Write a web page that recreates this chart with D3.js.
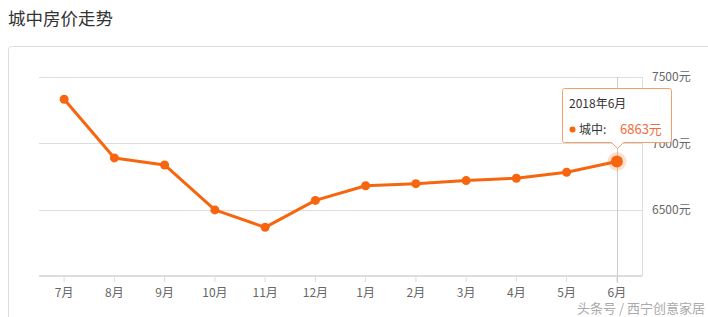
<!DOCTYPE html>
<html>
<head>
<meta charset="utf-8">
<script src="https://cdn.jsdelivr.net/npm/d3@7"></script>
<style>
  html, body { margin: 0; padding: 0; background: #fff; }
  body { width: 708px; height: 317px; overflow: hidden; font-family: "Noto Sans CJK SC", "Noto Sans", sans-serif; }
  svg { display: block; }
</style>
</head>
<body>
<svg id="chart"></svg>
<script>
// dati
const months = ["7月", "8月", "9月", "10月", "11月", "12月", "1月", "2月", "3月", "4月", "5月", "6月"];
const prices = [7332, 6890, 6837, 6498, 6367, 6570, 6680, 6696, 6719, 6737, 6782, 6863];
const yTicks = [6500, 7000, 7500];
const seriesName = "城中";
const tipTitle = "2018年6月";

const width = 708, height = 317;
const svg = d3.select("#chart").attr("width", width).attr("height", height);

// titolo + cornice
svg.append("text")
  .attr("x", 8).attr("y", 25)
  .attr("font-size", 17.5).attr("fill", "#333")
  .text("城中房价走势");

svg.append("rect")
  .attr("x", 8.5).attr("y", 46.5)
  .attr("width", 720).attr("height", 300)
  .attr("rx", 3)
  .attr("fill", "none").attr("stroke", "#ddd");

// area del grafico
const plot = { left: 39, right: 642, top: 77, bottom: 276 };

const x = d3.scaleBand().domain(months).range([plot.left, plot.right]);
const y = d3.scaleLinear().domain([6000, 7500]).range([plot.bottom, plot.top]);
const cx = (m) => x(m) + x.bandwidth() / 2;

// griglia
svg.append("g")
  .selectAll("line")
  .data(yTicks)
  .join("line")
  .attr("x1", plot.left).attr("x2", plot.right)
  .attr("y1", (d) => Math.round(y(d)) + 0.5)
  .attr("y2", (d) => Math.round(y(d)) + 0.5)
  .attr("stroke", "#ddd");

// bordo destro
svg.append("line")
  .attr("x1", plot.right + 0.5).attr("x2", plot.right + 0.5)
  .attr("y1", plot.top).attr("y2", plot.bottom)
  .attr("stroke", "#ddd");

// etichette asse Y (a destra)
svg.append("g")
  .selectAll("text")
  .data(yTicks)
  .join("text")
  .attr("x", 652)
  .attr("y", (d) => y(d))
  .attr("dy", "0.35em")
  .attr("font-size", 12).attr("fill", "#666")
  .text((d) => d + "元");

// asse X
const xAxis = svg.append("g")
  .attr("transform", `translate(0,${plot.bottom})`)
  .call(d3.axisBottom(x).tickSize(6).tickPadding(6));
xAxis.select(".domain").attr("stroke", "#ddd").attr("stroke-width", 2).attr("d", `M${plot.left},0H${plot.right}`);
xAxis.selectAll(".tick line").attr("stroke", "#ddd");
xAxis.selectAll(".tick text")
  .attr("font-size", 12).attr("fill", "#666")
  .attr("font-family", "'Noto Sans CJK SC', sans-serif");

// crosshair sull'ultimo punto
const last = months.length - 1;
svg.append("line")
  .attr("x1", Math.round(cx(months[last])) + 0.5)
  .attr("x2", Math.round(cx(months[last])) + 0.5)
  .attr("y1", plot.top).attr("y2", plot.bottom + 7)
  .attr("stroke", "#ccc");

// linea
const orange = "#f7650f";
const line = d3.line().x((d, i) => cx(months[i])).y((d) => y(d));
svg.append("path")
  .datum(prices)
  .attr("d", line)
  .attr("fill", "none")
  .attr("stroke", orange)
  .attr("stroke-width", 3)
  .attr("stroke-linejoin", "round");

svg.append("g")
  .selectAll("circle")
  .data(prices)
  .join("circle")
  .attr("cx", (d, i) => cx(months[i]))
  .attr("cy", (d) => y(d))
  .attr("r", 4.5)
  .attr("fill", orange);

// punto evidenziato
const lx = cx(months[last]), ly = y(prices[last]);
svg.append("circle").attr("cx", lx).attr("cy", ly).attr("r", 9.5)
  .attr("fill", orange).attr("opacity", 0.2);
svg.append("circle").attr("cx", lx).attr("cy", ly).attr("r", 6)
  .attr("fill", orange);

// tooltip
const tip = svg.append("g");
const tx = 562.5, ty = 88.5, tw = 109, th = 54;
const ax = Math.round(lx) + 0.5;
tip.append("path")
  .attr("d", `M${tx + 2},${ty} H${tx + tw - 2} Q${tx + tw},${ty} ${tx + tw},${ty + 2} V${ty + th - 2} Q${tx + tw},${ty + th} ${tx + tw - 2},${ty + th} H${ax + 6} L${ax},${ty + th + 6} L${ax - 6},${ty + th} H${tx + 2} Q${tx},${ty + th} ${tx},${ty + th - 2} V${ty + 2} Q${tx},${ty} ${tx + 2},${ty} Z`)
  .attr("fill", "rgba(255,255,255,0.95)")
  .attr("stroke", "#f5a06a");
tip.append("text")
  .attr("x", 569).attr("y", 108)
  .attr("font-size", 12).attr("fill", "#333")
  .text(tipTitle);
tip.append("circle").attr("cx", 572.5).attr("cy", 129.5).attr("r", 3).attr("fill", orange);
tip.append("text")
  .attr("x", 579).attr("y", 134)
  .attr("font-size", 12).attr("fill", "#333")
  .text(seriesName + ":");
tip.append("text")
  .attr("x", 620).attr("y", 134)
  .attr("font-size", 13).attr("fill", "#f26d3d")
  .text(prices[last] + "元");

// watermark
svg.append("text")
  .attr("x", 705).attr("y", 313)
  .attr("text-anchor", "end")
  .attr("font-size", 13)
  .attr("fill", "#aaa")
  .attr("stroke", "#fff").attr("stroke-width", 0.6)
  .attr("paint-order", "stroke")
  .text("头条号 / 西宁创意家居");
</script>
</body>
</html>
